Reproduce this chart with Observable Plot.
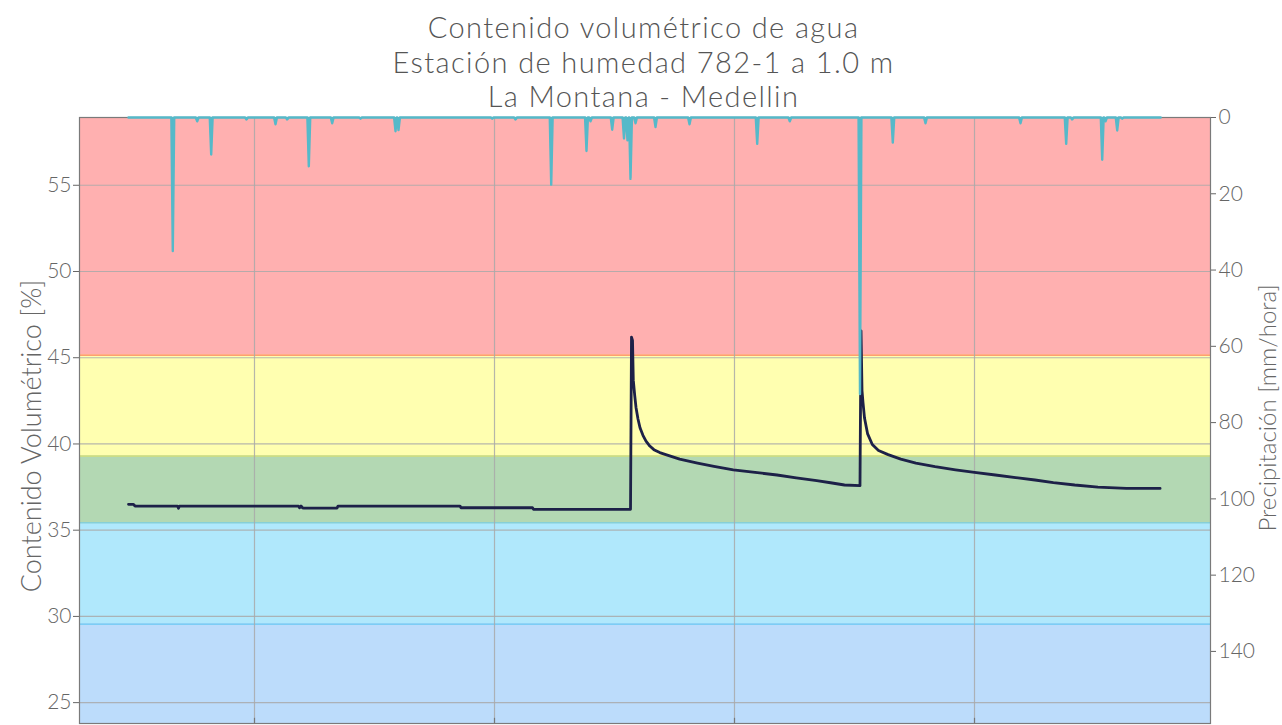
<!DOCTYPE html>
<html><head><meta charset="utf-8">
<script src="https://cdn.jsdelivr.net/npm/d3@7"></script>
<script src="https://cdn.jsdelivr.net/npm/@observablehq/plot@0.6"></script>
<style>
html,body{margin:0;padding:0;background:#fff;overflow:hidden;}
#wrap{position:relative;width:1282px;height:725px;font-family:Lato,"Open Sans",sans-serif;}
.layer{position:absolute;left:0;top:0;}
#title{position:absolute;left:0;top:10px;width:1287px;text-align:center;color:#555;font-size:29px;letter-spacing:1.4px;line-height:34.7px;font-weight:300;}
.ylab{position:absolute;white-space:nowrap;color:#666;font-weight:300;transform:translate(-50%,-50%) rotate(-90deg);}
</style></head>
<body>
<div id="wrap">
  <div id="title"></div>
  <div id="layerA" class="layer"></div>
  <div id="layerB" class="layer"></div>
  <div id="ylabL" class="ylab" style="left:30px;top:436px;font-size:27px;"></div>
  <div id="ylabR" class="ylab" style="left:1266px;top:408px;font-size:24px;"></div>
</div>
<script>
// ---- Text ----
const titleLines = ["Contenido volumétrico de agua", "Estación de humedad 782-1 a 1.0 m", "La Montana - Medellin"];
const leftLabel = "Contenido Volumétrico [%]";
const rightLabel = "Precipitación [mm/hora]";

// ---- Axes / ticks ----
const moistTicks = [25, 30, 35, 40, 45, 50, 55];
const precipTicks = [0, 20, 40, 60, 80, 100, 120, 140];
const dayTicks = [0, 7, 14, 21];
const dayDomain = [-5.104, 27.883];
const moistDomain = [23.79, 58.93];
const precipDomain = [0, 158.9];

// ---- Moisture zones (volumetric %) ----
const zoneLow  = [45.15, 39.3, 35.43, 29.55, 23.79];
const zoneHigh = [58.93, 45.15, 39.3, 35.43, 29.55];
const zoneEdges = [45.15, 39.3, 35.43, 29.55];

// ---- Volumetric water content series (day, %) ----
const moistDay = [-3.675, -3.529, -3.485, -2.246, -2.217, -2.188, 1.283, 1.313, 1.356, 1.400, 1.444, 2.406, 2.435,
  5.994, 6.023, 8.108, 8.137, 10.967, 10.996, 11.025, 11.048, 11.090, 11.127, 11.185, 11.244, 11.330, 11.419,
  11.530, 11.649, 11.820, 11.996, 12.400, 12.921, 13.400, 13.965, 14.600, 15.240, 15.800, 16.398, 16.800,
  17.208, 17.660, 17.690, 17.719, 17.748, 17.792, 17.880, 18.019, 18.200, 18.480, 18.850, 19.291, 19.850,
  20.446, 21.000, 21.607, 22.200, 22.765, 23.300, 23.923, 24.600, 25.428, 26.413];
const moistVal = [36.50, 36.50, 36.40, 36.40, 36.27, 36.40, 36.40, 36.30, 36.40, 36.30, 36.28, 36.28, 36.40,
  36.40, 36.30, 36.30, 36.21, 36.21, 46.20, 46.00, 43.70, 42.80, 42.12, 41.45, 40.94, 40.50, 40.16,
  39.88, 39.67, 39.50, 39.38, 39.12, 38.89, 38.70, 38.50, 38.35, 38.20, 38.03, 37.87, 37.75,
  37.62, 37.58, 46.56, 43.10, 42.40, 41.50, 40.60, 39.97, 39.62, 39.38, 39.12, 38.89, 38.68,
  38.50, 38.35, 38.20, 38.05, 37.91, 37.76, 37.62, 37.50, 37.42, 37.42];

// ---- Precipitation events (day, mm/hora) ----
const rainDay = [-2.383, -1.671, -1.263, -0.233, 0.613, 0.954, 1.584, 2.266, 3.092, 4.113, 4.200, 6.933, 7.613,
  8.654, 9.683, 9.800, 10.433, 10.777, 10.879, 10.967, 11.113, 11.696, 12.688, 14.662, 15.613, 17.660,
  18.617, 19.571, 22.342, 23.674, 23.849, 24.725, 24.821, 25.162, 25.308];
const rainMm = [35, 1, 9.7, 0.5, 1.8, 0.5, 12.8, 1.5, 0.3, 3.6, 3.3, 0.3, 0.5,
  17.6, 8.8, 1, 3.2, 5.5, 6, 16.1, 1.5, 2.5, 1.8, 6.9, 1, 72.5,
  6.6, 1.5, 1.5, 6.9, 0.5, 11.1, 1, 3.4, 0.3];
const rainStart = -3.675, rainEnd = 26.43;

// ---- Styles ----
const zoneFill = ["#ffb0b0", "#ffffb0", "#b3d8b3", "#b0e8fc", "#bcdcfb"];
const edgeStroke = ["#ff9f70", "#d2df78", "#86cfd6", "#7ccdf5"];
const navy = "#1d2148";
const cyan = "#55b9c9";

document.getElementById("title").innerHTML = titleLines.map(t => `<div>${t}</div>`).join("");
document.getElementById("ylabL").textContent = leftLabel;
document.getElementById("ylabR").textContent = rightLabel;

const zones = zoneLow.map((lo, i) => ({low: lo, high: zoneHigh[i], color: zoneFill[i]}));
const edges = zoneEdges.map((v, i) => ({v, color: edgeStroke[i]}));
const moist = moistDay.map((d, i) => ({day: d, v: moistVal[i]}));

// hourly precipitation: zero hours around each event
const H = 1 / 24;
const rain = [{day: rainStart, mm: 0}];
rainDay.forEach((d, i) => {
  const prev = i > 0 ? rainDay[i - 1] : -Infinity;
  const next = i < rainDay.length - 1 ? rainDay[i + 1] : Infinity;
  if (d - H > prev + H) rain.push({day: d - H, mm: 0});
  rain.push({day: d, mm: rainMm[i]});
  if (d + H < next - H) rain.push({day: d + H, mm: 0});
});
rain.push({day: rainEnd, mm: 0});

const common = {
  width: 1282, height: 725,
  marginTop: 117, marginBottom: 2, marginLeft: 79, marginRight: 72,
  style: {background: "transparent", fontFamily: "Lato, 'Open Sans', sans-serif", fontSize: "21px", color: "#666", overflow: "visible"}
};

const plotA = Plot.plot({
  ...common,
  x: {domain: dayDomain, axis: null},
  y: {domain: moistDomain},
  color: {type: "identity"},
  marks: [
    Plot.rect(zones, {y1: "low", y2: "high", fill: "color"}),
    Plot.ruleY(edges, {y: "v", stroke: "color", strokeWidth: 1.6}),
    Plot.gridY(moistTicks, {stroke: "#a9a9a9", strokeOpacity: 0.85, strokeWidth: 1.2}),
    Plot.gridX(dayTicks, {stroke: "#a9a9a9", strokeOpacity: 0.85, strokeWidth: 1.2}),
    Plot.ruleX(dayTicks, {x: d => d, y1: moistDomain[0], y2: moistDomain[0] + 0.3, stroke: "#777", strokeWidth: 1.2}),
    Plot.frame({stroke: "#7a7a7a", strokeWidth: 1.2}),
    Plot.axisY(moistTicks, {tickSize: 6, tickPadding: 2, label: null, fontSize: 21, fontWeight: 300}),
    Plot.line(moist, {x: "day", y: "v", stroke: navy, strokeWidth: 2.8, strokeLinejoin: "round"})
  ]
});
document.getElementById("layerA").appendChild(plotA);

const plotB = Plot.plot({
  ...common,
  x: {domain: dayDomain, axis: null},
  y: {domain: precipDomain, reverse: true},
  marks: [
    Plot.areaY(rain, {x: "day", y: "mm", fill: cyan}),
    Plot.lineY(rain, {x: "day", y: "mm", stroke: cyan, strokeWidth: 2.4, strokeLinejoin: "round"}),
    Plot.axisY(precipTicks, {anchor: "right", tickSize: 5, tickPadding: 3, label: null, fontSize: 21, fontWeight: 300})
  ]
});
document.getElementById("layerB").appendChild(plotB);
</script>
</body></html>
